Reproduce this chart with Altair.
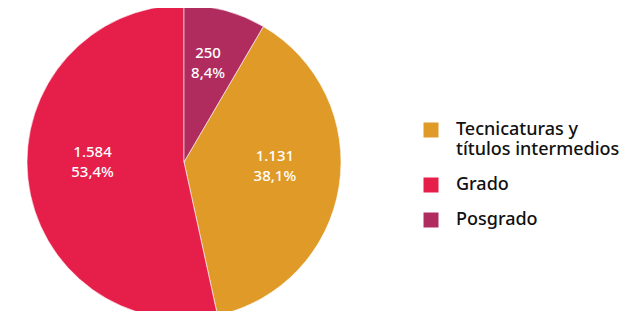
import altair as alt
import pandas as pd

categories = ["Tecnicaturas y títulos intermedios", "Grado", "Posgrado"]
values = [1131, 1584, 250]
count_labels = ["1.131", "1.584", "250"]
pct_labels = ["38,1%", "53,4%", "8,4%"]
slice_order = [2, 3, 1]
colors = ["#E09A28", "#E51F4A", "#B02C5E"]

df = pd.DataFrame({
    "cat": categories,
    "val": values,
    "ord": slice_order,
    "lab": [c + "\n" + p for c, p in zip(count_labels, pct_labels)],
})

FONT = "Noto Sans"

base = alt.Chart(df).encode(
    theta=alt.Theta("val:Q", stack=True),
    order=alt.Order("ord:Q"),
    x=alt.value(176),
    y=alt.value(154),
)

legend_label_expr = (
    "datum.label == 'Tecnicaturas y títulos intermedios' ? "
    "['Tecnicaturas y', 'títulos intermedios'] : datum.label"
)

arcs = base.mark_arc(outerRadius=157, stroke="#ffffff", strokeWidth=0.6).encode(
    color=alt.Color(
        "cat:N",
        scale=alt.Scale(domain=categories, range=colors),
        legend=alt.Legend(
            title=None,
            orient="none",
            legendX=414,
            legendY=113,
            symbolType="square",
            symbolSize=225,
            symbolStrokeWidth=0,
            labelFont=FONT,
            labelFontSize=18,
            labelFontWeight=500,
            labelColor="#111111",
            labelOffset=16,
            labelLimit=300,
            rowPadding=17,
            labelExpr=legend_label_expr,
            labelBaseline="middle",
        ),
    )
)

texts = base.mark_text(
    radius=92,
    dy=-20,
    font=FONT,
    fontSize=15,
    fontWeight=500,
    color="white",
    lineBreak="\n",
    lineHeight=20,
    align="center",
    baseline="middle",
).encode(text="lab:N")

chart = (
    alt.layer(arcs, texts)
    .properties(width=613, height=303, autosize=alt.AutoSizeParams(type="none"), padding=0)
    .configure(font=FONT)
    .configure_view(stroke=None)
)

chart.save("out.html", embed_options={"renderer": "svg", "actions": False})
